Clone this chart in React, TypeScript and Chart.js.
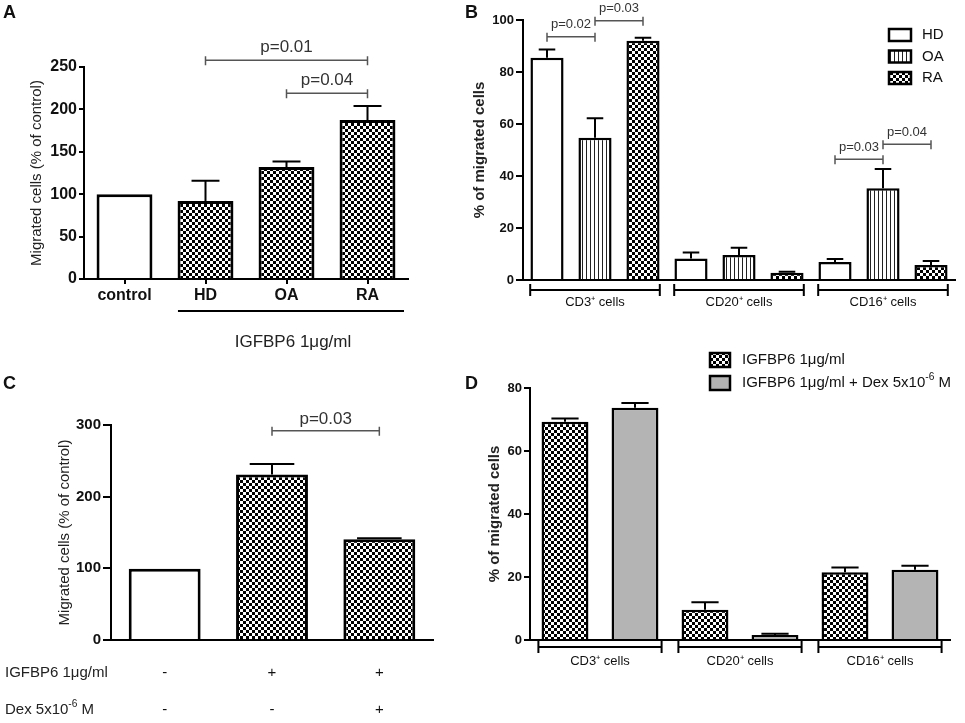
import { useEffect, useRef } from 'react';
import { Chart, registerables } from 'chart.js';

Chart.register(...registerables);

const FONT = '"Liberation Sans", Arial, Helvetica, sans-serif';
Chart.defaults.font.family = FONT;

// panel A
const aLabels = ['control', 'HD', 'OA', 'RA'];
const aValues = [100, 92, 132, 187.5];
const aErrors = [0, 24, 6.5, 16.5];
const aPvals = [
	{ a: [0, 1], b: [0, 3], y: 258, label: 'p=0.01' },
	{ a: [0, 2], b: [0, 3], y: 219, label: 'p=0.04' },
];
const aGroupText = 'IGFBP6 1μg/ml';

// panel B
const bCells = ['CD3⁺ cells', 'CD20⁺ cells', 'CD16⁺ cells'];
const bSeries = ['HD', 'OA', 'RA'];
const bHD = [85.5, 8.3, 6.9];
const bHDErr = [3.2, 2.3, 1.2];
const bOA = [54.7, 9.6, 35.3];
const bOAErr = [7.5, 2.8, 7.4];
const bRA = [92, 2.8, 5.8];
const bRAErr = [1.2, 0.4, 1.5];
const bPvals = [
	{ a: [0, 0], b: [1, 0], y: 93.6, label: 'p=0.02' },
	{ a: [1, 0], b: [2, 0], y: 99.7, label: 'p=0.03' },
	{ a: [0, 2], b: [1, 2], y: 46.4, label: 'p=0.03' },
	{ a: [1, 2], b: [2, 2], y: 52.2, label: 'p=0.04' },
];

// panel C
const cRowLabels = ['IGFBP6 1μg/ml', 'Dex 5x10^{-6} M'];
const cIgfbp = ['-', '+', '+'];
const cDex = ['-', '-', '+'];
const cValues = [99.5, 231, 140.5];
const cErrors = [0, 14.6, 1.5];
const cPvals = [{ a: [0, 1], b: [0, 2], y: 292, label: 'p=0.03' }];

// panel D
const dCells = ['CD3⁺ cells', 'CD20⁺ cells', 'CD16⁺ cells'];
const dSeries = ['IGFBP6 1μg/ml', 'IGFBP6 1μg/ml + Dex 5x10^{-6} M'];
const dIgfbp = [69.3, 9.6, 21.5];
const dIgfbpErr = [1.0, 2.4, 1.5];
const dDex = [73.7, 1.6, 22.3];
const dDexErr = [1.5, 0.4, 1.3];

type Bracket = { a: number[]; b: number[]; y: number; label: string };

function checker() {
	const c = document.createElement('canvas');
	c.width = 6;
	c.height = 6;
	const g = c.getContext('2d')!;
	g.fillStyle = '#fff';
	g.fillRect(0, 0, 6, 6);
	g.fillStyle = '#000';
	g.fillRect(0, 0, 3, 3);
	g.fillRect(3, 3, 3, 3);
	return g.createPattern(c, 'repeat')!;
}

function stripes() {
	const c = document.createElement('canvas');
	c.width = 4;
	c.height = 4;
	const g = c.getContext('2d')!;
	g.fillStyle = '#fff';
	g.fillRect(0, 0, 4, 4);
	g.fillStyle = '#222';
	g.fillRect(0, 0, 1, 4);
	return g.createPattern(c, 'repeat')!;
}

// text with ^{...} parts drawn as superscript
function drawRich(ctx: CanvasRenderingContext2D, text: string, x: number, y: number, size: number, align = 'left') {
	const parts = text.split(/\^\{([^}]*)\}/);
	const font = (i: number) => (i % 2 ? `${size * 0.68}px ${FONT}` : `${size}px ${FONT}`);
	let total = 0;
	parts.forEach((p, i) => {
		ctx.font = font(i);
		total += ctx.measureText(p).width;
	});
	let cx = align === 'center' ? x - total / 2 : x;
	ctx.textAlign = 'left';
	ctx.textBaseline = 'middle';
	parts.forEach((p, i) => {
		ctx.font = font(i);
		ctx.fillText(p, cx, i % 2 ? y - size * 0.38 : y);
		cx += ctx.measureText(p).width;
	});
}

const errorBars = (errs: number[][], capFrac: number, lw: number) => ({
	id: 'errorBars',
	afterDatasetsDraw(chart: any) {
		const ctx = chart.ctx;
		const ys = chart.scales.y;
		ctx.save();
		ctx.strokeStyle = '#000';
		ctx.lineWidth = lw;
		chart.data.datasets.forEach((ds: any, di: number) => {
			chart.getDatasetMeta(di).data.forEach((bar: any, i: number) => {
				const e = errs[di][i];
				if (!e) return;
				const top = ys.getPixelForValue(ds.data[i] + e);
				const half = (bar.width * capFrac) / 2;
				ctx.beginPath();
				ctx.moveTo(bar.x, bar.y);
				ctx.lineTo(bar.x, top);
				ctx.moveTo(bar.x - half, top);
				ctx.lineTo(bar.x + half, top);
				ctx.stroke();
			});
		});
		ctx.restore();
	},
});

const pBrackets = (items: Bracket[], size: number, gap: number) => ({
	id: 'pBrackets',
	afterDraw(chart: any) {
		const ctx = chart.ctx;
		const ys = chart.scales.y;
		ctx.save();
		items.forEach((it) => {
			const x1 = chart.getDatasetMeta(it.a[0]).data[it.a[1]].x;
			const x2 = chart.getDatasetMeta(it.b[0]).data[it.b[1]].x;
			const y = ys.getPixelForValue(it.y);
			ctx.strokeStyle = '#555';
			ctx.lineWidth = 1.5;
			ctx.beginPath();
			ctx.moveTo(x1, y);
			ctx.lineTo(x2, y);
			ctx.moveTo(x1, y - 4);
			ctx.lineTo(x1, y + 5);
			ctx.moveTo(x2, y - 4);
			ctx.lineTo(x2, y + 5);
			ctx.stroke();
			ctx.fillStyle = '#333';
			ctx.font = `${size}px ${FONT}`;
			ctx.textAlign = 'center';
			ctx.textBaseline = 'middle';
			ctx.fillText(it.label, (x1 + x2) / 2, y - gap);
		});
		ctx.restore();
	},
});

const groupBrackets = (y: number, halfFrac: number) => ({
	id: 'groupBrackets',
	afterDraw(chart: any) {
		const ctx = chart.ctx;
		const xs = chart.scales.x;
		const w = xs.getPixelForValue(1) - xs.getPixelForValue(0);
		ctx.save();
		ctx.strokeStyle = '#000';
		ctx.lineWidth = 2;
		chart.data.labels.forEach((_: string, i: number) => {
			const c = xs.getPixelForValue(i);
			const x1 = c - w * halfFrac;
			const x2 = c + w * halfFrac;
			ctx.beginPath();
			ctx.moveTo(x1, y);
			ctx.lineTo(x2, y);
			ctx.moveTo(x1, y - 6);
			ctx.lineTo(x1, y + 6);
			ctx.moveTo(x2, y - 6);
			ctx.lineTo(x2, y + 6);
			ctx.stroke();
		});
		ctx.restore();
	},
});

const boxLegend = (x: number, y0: number, dy: number, bw: number, bh: number, size: number, gap: number) => ({
	id: 'boxLegend',
	afterDraw(chart: any) {
		const ctx = chart.ctx;
		ctx.save();
		chart.data.datasets.forEach((ds: any, i: number) => {
			const cy = y0 + i * dy;
			ctx.fillStyle = ds.backgroundColor;
			ctx.fillRect(x, cy - bh / 2, bw, bh);
			ctx.strokeStyle = '#000';
			ctx.lineWidth = 2.5;
			ctx.strokeRect(x, cy - bh / 2, bw, bh);
			ctx.fillStyle = '#111';
			drawRich(ctx, ds.label, x + bw + gap, cy, size);
		});
		ctx.restore();
	},
});

const aExtras = {
	id: 'aExtras',
	afterDraw(chart: any) {
		const ctx = chart.ctx;
		const xs = chart.scales.x;
		const w = xs.getPixelForValue(1) - xs.getPixelForValue(0);
		const x1 = xs.getPixelForValue(1) - w * 0.34;
		const x2 = chart.chartArea.right - 4;
		ctx.save();
		ctx.strokeStyle = '#000';
		ctx.lineWidth = 2;
		ctx.beginPath();
		ctx.moveTo(x1, 311);
		ctx.lineTo(x2, 311);
		ctx.stroke();
		ctx.fillStyle = '#222';
		drawRich(ctx, aGroupText, (x1 + x2) / 2 + 2, 342, 17, 'center');
		ctx.restore();
	},
};

const cRows = {
	id: 'cRows',
	afterDraw(chart: any) {
		const ctx = chart.ctx;
		ctx.save();
		ctx.fillStyle = '#222';
		cRowLabels.forEach((t, i) => drawRich(ctx, t, 5, 313 + i * 37, 15));
		ctx.restore();
	},
};

function yAxis(max: number, step: number, tickSize: number, tickLen: number, title: string, bold: boolean, pad: number, width: number) {
	return {
		min: 0,
		max,
		ticks: { stepSize: step, color: '#111', padding: 2, font: { size: tickSize, weight: 'bold' } },
		grid: { drawOnChartArea: false, drawTicks: true, tickLength: tickLen, color: '#000', lineWidth: 2 },
		border: { color: '#000', width: 2 },
		title: {
			display: true,
			text: title,
			color: '#222',
			padding: { top: pad, bottom: 0 },
			font: { size: 15, weight: bold ? 'bold' : 'normal' },
		},
		afterFit: (s: any) => {
			s.width = width;
		},
	};
}

function xAxis(height: number, size: number, bold: boolean, pad: number, lineHeight?: number) {
	return {
		grid: { display: false, drawTicks: false },
		border: { color: '#000', width: 2 },
		ticks: { color: '#111', padding: pad, font: { size, weight: bold ? 'bold' : 'normal', lineHeight: lineHeight ?? 1.2 } },
		afterFit: (s: any) => {
			s.height = height;
		},
	};
}

const common = {
	responsive: false,
	animation: false,
	plugins: { legend: { display: false }, tooltip: { enabled: false } },
};

function buildA(el: HTMLCanvasElement) {
	const chk = checker();
	return new Chart(el, {
		type: 'bar',
		data: {
			labels: aLabels,
			datasets: [{ data: aValues, backgroundColor: ['#fff', chk, chk, chk], borderColor: '#000', borderWidth: 3, barPercentage: 0.69, categoryPercentage: 1 }],
		},
		options: {
			...common,
			layout: { padding: { top: 67, right: 32, left: 0, bottom: 0 } },
			scales: {
				x: {
					grid: { drawOnChartArea: false, drawTicks: true, tickLength: 5, offset: false, color: '#000', lineWidth: 2 },
					border: { color: '#000', width: 2 },
					ticks: { color: '#111', padding: 2, font: { size: 16, weight: 'bold' } },
					afterFit: (s: any) => {
						s.height = 81;
					},
				},
				y: yAxis(250, 50, 16, 5, 'Migrated cells (% of control)', false, 28, 84),
			},
		} as any,
		plugins: [errorBars([aErrors], 0.5, 2), pBrackets(aPvals, 17, 13), aExtras],
	});
}

function buildB(el: HTMLCanvasElement) {
	const chk = checker();
	const str = stripes();
	const ds = (label: string, data: number[], bg: any) => ({ label, data, backgroundColor: bg, borderColor: '#000', borderWidth: 2.5, barPercentage: 0.69, categoryPercentage: 1 });
	return new Chart(el, {
		type: 'bar',
		data: {
			labels: bCells,
			datasets: [ds(bSeries[0], bHD, '#fff'), ds(bSeries[1], bOA, str), ds(bSeries[2], bRA, chk)],
		},
		options: {
			...common,
			layout: { padding: { top: 20, right: 10, left: 0, bottom: 0 } },
			scales: {
				x: xAxis(60, 13, false, 15),
				y: yAxis(100, 20, 13, 7, '% of migrated cells', true, 1, 53),
			},
		} as any,
		plugins: [
			errorBars([bHDErr, bOAErr, bRAErr], 0.5, 2),
			pBrackets(bPvals, 13, 12),
			groupBrackets(290, 0.45),
			boxLegend(419, 35, 21.5, 22, 12, 15, 11),
		],
	});
}

function buildC(el: HTMLCanvasElement) {
	const chk = checker();
	return new Chart(el, {
		type: 'bar',
		data: {
			labels: cIgfbp.map((s, i) => [s, cDex[i]]),
			datasets: [{ data: cValues, backgroundColor: ['#fff', chk, chk], borderColor: '#000', borderWidth: 3, barPercentage: 0.67, categoryPercentage: 1 }],
		},
		options: {
			...common,
			layout: { padding: { top: 65, right: 7, left: 0, bottom: 0 } },
			scales: {
				x: xAxis(83, 15, false, 14.5, 37 / 15),
				y: yAxis(300, 100, 15, 8, 'Migrated cells (% of control)', false, 56, 111),
			},
		} as any,
		plugins: [errorBars([cErrors], 0.62, 2), pBrackets(cPvals, 17, 11), cRows],
	});
}

function buildD(el: HTMLCanvasElement) {
	const chk = checker();
	const ds = (label: string, data: number[], bg: any) => ({ label, data, backgroundColor: bg, borderColor: '#000', borderWidth: 2.5, barPercentage: 0.67, categoryPercentage: 1 });
	return new Chart(el, {
		type: 'bar',
		data: {
			labels: dCells,
			datasets: [ds(dSeries[0], dIgfbp, chk), ds(dSeries[1], dDex, '#b4b4b4')],
		},
		options: {
			...common,
			layout: { padding: { top: 48, right: 15, left: 0, bottom: 0 } },
			scales: {
				x: xAxis(83, 13, false, 14),
				y: yAxis(80, 20, 13, 6, '% of migrated cells', true, 16, 60),
			},
		} as any,
		plugins: [
			errorBars([dIgfbpErr, dDexErr], 0.58, 2),
			groupBrackets(307, 0.44),
			boxLegend(240, 20, 23, 20, 14, 15, 12),
		],
	});
}

function ChartBox({ left, top, width, height, build }: { left: number; top: number; width: number; height: number; build: (el: HTMLCanvasElement) => Chart }) {
	const ref = useRef<HTMLCanvasElement | null>(null);
	useEffect(() => {
		if (!ref.current) return;
		const chart = build(ref.current);
		return () => chart.destroy();
	}, [build]);
	return <canvas ref={ref} width={width} height={height} style={{ position: 'absolute', left, top, width, height }} />;
}

const letter = (text: string, left: number, top: number) => (
	<div style={{ position: 'absolute', left, top, font: `bold 18px ${FONT}`, lineHeight: 1, color: '#111' }}>{text}</div>
);

export default function App() {
	return (
		<div style={{ position: 'absolute', left: 0, top: 0, width: 965, height: 723, background: '#fff', overflow: 'hidden' }}>
			<ChartBox left={0} top={0} width={440} height={360} build={buildA} />
			<ChartBox left={470} top={0} width={495} height={340} build={buildB} />
			<ChartBox left={0} top={360} width={440} height={363} build={buildC} />
			<ChartBox left={470} top={340} width={495} height={383} build={buildD} />
			{letter('A', 3, 3)}
			{letter('B', 465, 3)}
			{letter('C', 3, 374)}
			{letter('D', 465, 374)}
		</div>
	);
}
